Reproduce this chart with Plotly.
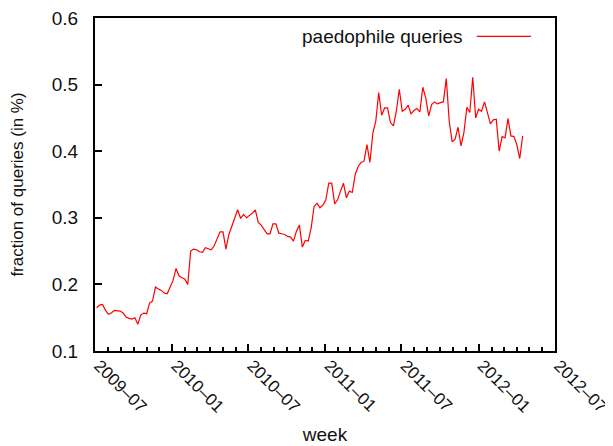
import datetime as dt
import plotly.graph_objects as go

start_week = "2009-07-05"
values = [
    0.165, 0.169, 0.170, 0.161, 0.155, 0.157, 0.161, 0.161, 0.160, 0.157,
    0.151, 0.149, 0.148, 0.150, 0.140, 0.154, 0.157, 0.156, 0.172, 0.175,
    0.196, 0.193, 0.191, 0.187, 0.186, 0.196, 0.206, 0.224, 0.213, 0.210,
    0.208, 0.200, 0.250, 0.253, 0.252, 0.249, 0.248, 0.255, 0.253, 0.252,
    0.258, 0.268, 0.279, 0.279, 0.253, 0.275, 0.288, 0.298, 0.312, 0.299,
    0.305, 0.300, 0.303, 0.307, 0.312, 0.293, 0.289, 0.283, 0.276, 0.276,
    0.291, 0.291, 0.277, 0.276, 0.275, 0.272, 0.271, 0.265, 0.280, 0.289,
    0.256, 0.266, 0.265, 0.285, 0.317, 0.322, 0.315, 0.319, 0.327, 0.352,
    0.352, 0.321, 0.327, 0.340, 0.352, 0.330, 0.340, 0.338, 0.365, 0.377,
    0.383, 0.385, 0.410, 0.383, 0.427, 0.445, 0.488, 0.454, 0.465, 0.465,
    0.443, 0.438, 0.460, 0.493, 0.460, 0.463, 0.469, 0.456, 0.461, 0.464,
    0.459, 0.496, 0.480, 0.453, 0.470, 0.474, 0.471, 0.473, 0.474, 0.509,
    0.445, 0.414, 0.418, 0.436, 0.408, 0.428, 0.466, 0.458, 0.511, 0.450,
    0.463, 0.460, 0.474, 0.458, 0.441, 0.447, 0.448, 0.400, 0.422, 0.420,
    0.449, 0.423, 0.422, 0.410, 0.389, 0.423,
]
tick_dates = ["2009-07-01", "2010-01-01", "2010-07-01", "2011-01-01",
              "2011-07-01", "2012-01-01", "2012-07-01"]
tick_labels = ["2009\u201307", "2010\u201301", "2010\u201307", "2011\u201301",
               "2011\u201307", "2012\u201301", "2012\u201307"]
y_ticks = [0.1, 0.2, 0.3, 0.4, 0.5, 0.6]
series_name = "paedophile queries"

d0 = dt.date.fromisoformat(start_week)
weeks = [(d0 + dt.timedelta(days=7 * i)).isoformat() for i in range(len(values))]

FONT = "Liberation Sans, Arial, Helvetica, sans-serif"

fig = go.Figure()
fig.add_trace(go.Scatter(x=weeks, y=values, mode="lines",
                         line=dict(color="#ff0000", width=1.2),
                         name=series_name, showlegend=False))

# the page body adds an 8px offset; margins compensate for it
fig.update_layout(
    width=613, height=446,
    margin=dict(l=87, r=66, t=10, b=103),
    paper_bgcolor="white", plot_bgcolor="white",
    font=dict(family=FONT, size=19, color="#111"),
)
fig.update_xaxes(
    range=["2009-07-01", "2012-07-01"], automargin=False,
    tickvals=tick_dates, ticktext=tick_labels, tickangle=45,
    ticks="inside", ticklen=7, tickwidth=2, tickcolor="black",
    minor=dict(dtick="M1", tick0="2009-07-01", ticks="inside", ticklen=4,
               tickwidth=2, tickcolor="black", showgrid=False),
    showline=True, linewidth=2, linecolor="black", mirror=True,
    showgrid=False, zeroline=False,
    title=dict(text="week", font=dict(size=19), standoff=12),
    tickfont=dict(size=17), ticklabelstandoff=-4, ticklabelshift=4,
    ticklabeloverflow="allow",
)
fig.update_yaxes(
    range=[0.1, 0.6], tickvals=y_ticks, tickformat=".1f", automargin=False,
    ticks="inside", ticklen=7, tickwidth=2, tickcolor="black",
    showline=True, linewidth=2, linecolor="black", mirror=True,
    showgrid=False, zeroline=False,
    title=dict(text="fraction of queries (in %)", font=dict(size=17), standoff=24),
    tickfont=dict(size=19), ticklabelstandoff=11, ticklabeloverflow="allow",
)
# legend-like key (text then line sample), as in the gnuplot original
fig.add_annotation(xref="paper", yref="paper", x=0.805, y=0.945,
                   text=series_name, showarrow=False, xanchor="right",
                   yanchor="middle", font=dict(size=19, color="#111"))
fig.add_shape(type="line", xref="paper", yref="paper",
              x0=0.83, x1=0.948, y0=0.945, y1=0.945,
              line=dict(color="#ff0000", width=1.2))

fig.write_html("out.html")
